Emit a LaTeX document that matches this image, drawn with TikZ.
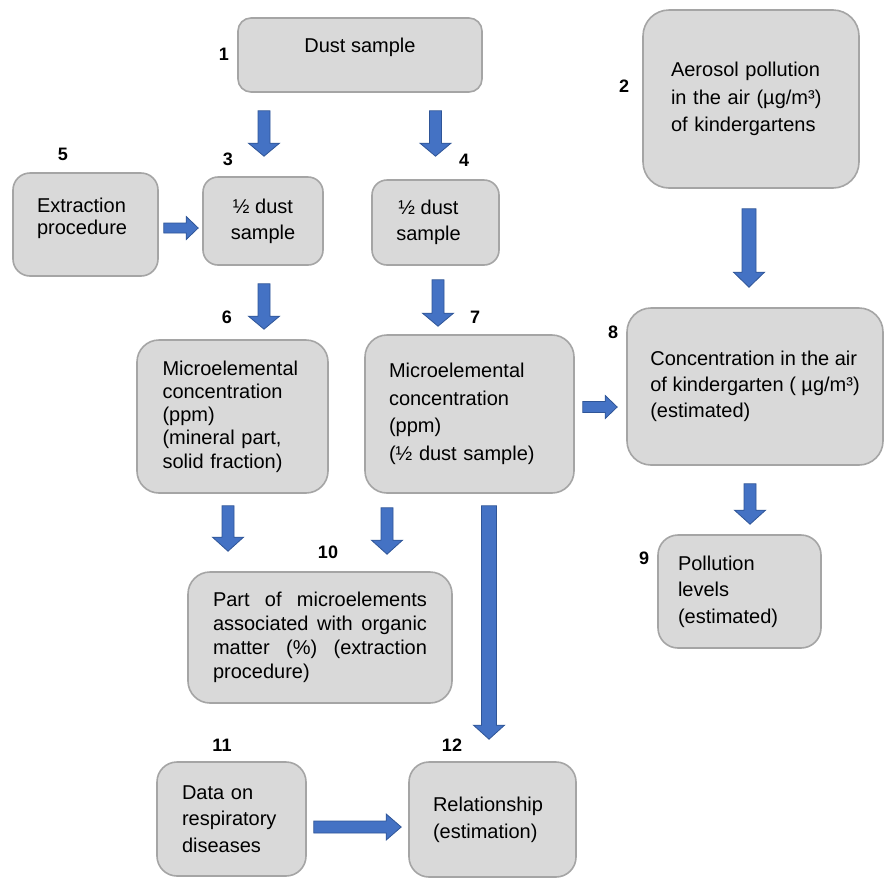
\documentclass[tikz,border=0pt]{standalone}
\usepackage{fontspec}
\setmainfont{Liberation Sans}
\usetikzlibrary{calc}
\definecolor{boxfill}{HTML}{D9D9D9}
\definecolor{boxdraw}{HTML}{A5A5A5}
\definecolor{arrfill}{HTML}{4472C4}
\definecolor{arrdraw}{HTML}{2F5597}
\hyphenpenalty=10000
\exhyphenpenalty=10000
% vertical (downward) block arrow: start, end, shaft half width, head half width, head length
\newcommand{\varr}[5]{%
  \draw[barrow] let \p1=(#1), \p2=(#2) in
  (\x1-#3,\y1) -- (\x1+#3,\y1) -- (\x1+#3,\y2+#5) -- (\x1+#4,\y2+#5) -- (\x1,\y2)
  -- (\x1-#4,\y2+#5) -- (\x1-#3,\y2+#5) -- cycle;}
% horizontal (rightward) block arrow
\newcommand{\harr}[5]{%
  \draw[barrow] let \p1=(#1), \p2=(#2) in
  (\x1,\y1+#3) -- (\x2-#5,\y1+#3) -- (\x2-#5,\y1+#4) -- (\x2,\y1)
  -- (\x2-#5,\y1-#4) -- (\x2-#5,\y1-#3) -- (\x1,\y1-#3) -- cycle;}
\begin{document}
\begin{tikzpicture}[x=1pt,y=-1pt,
  box/.style={draw=boxdraw, fill=boxfill, line width=1.6pt, inner sep=0pt,
    font=\fontsize{20}{26}\selectfont, text=black},
  num/.style={font=\bfseries\fontsize{18}{18}\selectfont, inner sep=0pt},
  barrow/.style={fill=arrfill, draw=arrdraw, line width=0.8pt, line join=miter}]

\useasboundingbox[fill=white] (0,0) rectangle (885,879);

% boxes
\node[box, rounded corners=13pt, minimum width=244pt, minimum height=74pt,
  text depth=20pt] (n1) at (360,55) {Dust sample};
\node[box, rounded corners=26pt, minimum width=216pt, minimum height=178pt,
  text width=160pt, align=left, font=\fontsize{20}{27.5}\selectfont] (n2) at (751,99)
  {Aerosol pollution\\in the air (µg/m³)\\of kindergartens};
\node[box, rounded corners=15pt, minimum width=120pt, minimum height=88pt,
  align=center] (n3) at (263,221) {½ dust\\sample};
\node[box, rounded corners=15pt, minimum width=127pt, minimum height=85pt,
  align=center] (n4) at (435.5,222.5) {½ dust\hspace*{14pt}\\sample\hspace*{14pt}};
\node[box, rounded corners=17pt, minimum width=145pt, minimum height=103pt,
  text width=97pt, align=left, font=\fontsize{20}{22}\selectfont,
  text depth=38pt] (n5) at (85.5,224.5) {Extraction\\procedure};
\node[box, rounded corners=22pt, minimum width=191pt, minimum height=153pt,
  text width=140pt, align=left, font=\fontsize{20}{23.3}\selectfont] (n6) at (232.5,416.5)
  {Microelemental\\concentration\\(ppm)\\(mineral part,\\solid fraction)};
\node[box, rounded corners=22pt, minimum width=209pt, minimum height=158pt,
  text width=161pt, align=left, font=\fontsize{20}{27.5}\selectfont] (n7) at (469.5,414)
  {Microelemental\\concentration\\(ppm)\\(½ dust sample)};
\node[box, rounded corners=24pt, minimum width=256pt, minimum height=157pt,
  align=left] (n8) at (755,386.5)
  {Concentration in the air\\of kindergarten ( µg/m³)\\(estimated)};
\node[box, rounded corners=20pt, minimum width=163pt, minimum height=113pt,
  text width=123pt, align=left, font=\fontsize{20}{26.5}\selectfont] (n9) at (739.5,591.5)
  {Pollution\\levels\\(estimated)};
\node[box, rounded corners=22pt, minimum width=264pt, minimum height=131pt,
  text width=214pt, align=justify, font=\fontsize{20}{24}\selectfont] (n10) at (320,637.5)
  {Part of microelements\linebreak associated with organic\linebreak matter (\%) (extraction\linebreak procedure)};
\node[box, rounded corners=20pt, minimum width=149pt, minimum height=114pt,
  text width=99pt, align=left, font=\fontsize{20}{26.5}\selectfont] (n11) at (231.5,819)
  {Data on\\respiratory\\diseases};
\node[box, rounded corners=20pt, minimum width=167pt, minimum height=115pt,
  text width=119pt, align=left, font=\fontsize{20}{27}\selectfont] (n12) at (492.5,819.5)
  {Relationship\\(estimation)};

% number labels
\node[num] (l1) at (224,54) {1};
\node[num] (l2) at (624,86) {2};
\node[num] (l3) at (228,159) {3};
\node[num] (l4) at (464,160) {4};
\node[num] (l5) at (63,154) {5};
\node[num] (l6) at (227,317) {6};
\node[num] (l7) at (475,317) {7};
\node[num] (l8) at (613,332) {8};
\node[num] (l9) at (644,558) {9};
\node[num] (l10) at (328,552) {10};
\node[num] (l11) at (222,745) {11};
\node[num] (l12) at (452,745) {12};

% arrow end points
\coordinate (a1s) at ($(n3.north |- n1.south)+(1,18)$);
\coordinate (a1e) at ($(n3.north)+(1,-20)$);
\coordinate (a2s) at ($(n4.north |- n1.south)+(0,18)$);
\coordinate (a2e) at ($(n4.north)+(0,-23)$);
\coordinate (a3s) at ($(n5.east)+(5,3.5)$);
\coordinate (a3e) at ($(n5.east -| n3.west)+(-4,3.5)$);
\coordinate (a4s) at ($(n3.south)+(1,18)$);
\coordinate (a4e) at ($(n3.south |- n6.north)+(1,-10)$);
\coordinate (a5s) at ($(n4.south)+(2.5,14)$);
\coordinate (a5e) at ($(n4.south |- n7.north)+(2.5,-8)$);
\coordinate (a6s) at ($(n7.east)+(8,-7)$);
\coordinate (a6e) at ($(n7.east -| n8.west)+(-9,-7)$);
\coordinate (a7s) at ($(n2.south)+(-2,20)$);
\coordinate (a7e) at ($(n2.south |- n8.north)+(-2,-20)$);
\coordinate (a8s) at ($(n8.south)+(-5,18)$);
\coordinate (a8e) at ($(n8.south |- n9.north)+(-5,-10)$);
\coordinate (a9s) at ($(n6.south)+(-4.5,12)$);
\coordinate (a9e) at ($(n6.south |- n10.north)+(-4.5,-20)$);
\coordinate (a10s) at ($(n7.south)+(-82.5,14)$);
\coordinate (a10e) at ($(n7.south |- n10.north)+(-82.5,-17)$);
\coordinate (a11s) at ($(n12.north |- n7.south)+(-3.5,12)$);
\coordinate (a11e) at ($(n12.north)+(-3.5,-22)$);
\coordinate (a12s) at ($(n11.east)+(7,8)$);
\coordinate (a12e) at ($(n11.east -| n12.west)+(-7,8)$);

% block arrows
\varr{a1s}{a1e}{6pt}{15.5pt}{13pt}
\varr{a2s}{a2e}{6pt}{15.5pt}{13pt}
\harr{a3s}{a3e}{5pt}{11.5pt}{12pt}
\varr{a4s}{a4e}{6pt}{15.5pt}{13pt}
\varr{a5s}{a5e}{6pt}{15.5pt}{13pt}
\harr{a6s}{a6e}{5.5pt}{11.5pt}{12pt}
\varr{a7s}{a7e}{7pt}{15.5pt}{15pt}
\varr{a8s}{a8e}{6pt}{15.5pt}{14pt}
\varr{a9s}{a9e}{6pt}{15.5pt}{14pt}
\varr{a10s}{a10e}{6pt}{15.5pt}{14pt}
\varr{a11s}{a11e}{7.5pt}{15.5pt}{14pt}
\harr{a12s}{a12e}{6pt}{13pt}{15pt}
\end{tikzpicture}
\end{document}
